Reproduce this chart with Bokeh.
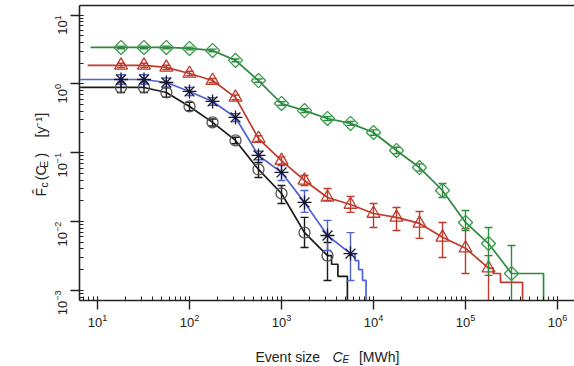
import math
from bokeh.plotting import figure
from bokeh.models import LogAxis, Label, FixedTicker
from bokeh.embed import file_html
from bokeh.resources import INLINE

# ---------------- data ----------------
# event sizes (MWh) at which the markers sit
sizes = [18, 32, 56, 100, 178, 316, 562, 1000, 1778, 3162, 5623,
         10000, 17783, 31623, 56234, 100000, 177828, 316228]

# black circles
black_y = [0.889, 0.889, 0.752, 0.471, 0.276, 0.151, 0.0572, 0.0256, 0.0069, 0.0032]
black_hi = [1.05, 1.05, 0.88, 0.54, 0.31, 0.168, 0.0722, 0.0334, 0.0115, 0.00497]
black_lo = [0.75, 0.75, 0.64, 0.41, 0.245, 0.135, 0.0438, 0.0183, 0.0042, 0.00139]
black_start = 6.5
black_tail_x = [3500, 3500, 4100, 4100, 5200, 5200]
black_tail_y = [0.0032, 0.0024, 0.0024, 0.0016, 0.0016, 0.0003]

# blue asterisks
blue_y = [1.16, 1.16, 1.05, 0.778, 0.557, 0.326, 0.0914, 0.0518, 0.019, 0.00628, 0.00343]
blue_hi = [1.36, 1.36, 1.22, 0.89, 0.63, 0.37, 0.105, 0.0654, 0.0283, 0.0104, 0.0069]
blue_lo = [0.99, 0.99, 0.9, 0.68, 0.49, 0.285, 0.079, 0.0396, 0.0136, 0.0038, 0.00139]
blue_start = 6.5
blue_tail_x = [6300, 6300, 6900, 6900, 7600, 7600, 8300, 8300]
blue_tail_y = [0.00343, 0.0027, 0.0027, 0.0020, 0.0020, 0.0014, 0.0014, 0.0003]

# red triangles
red_y = [1.86, 1.86, 1.74, 1.42, 1.12, 0.637, 0.161, 0.077, 0.0396, 0.0224, 0.0177,
         0.0131, 0.0115, 0.0094, 0.0059, 0.0041, 0.0021]
red_hi = [2.0, 2.0, 1.87, 1.53, 1.2, 0.69, 0.177, 0.087, 0.0468, 0.0303, 0.0232,
          0.0183, 0.016, 0.014, 0.0097, 0.0079, 0.0032]
red_lo = [1.73, 1.73, 1.62, 1.32, 1.04, 0.59, 0.146, 0.068, 0.0335, 0.0203, 0.0136,
          0.0082, 0.0074, 0.0057, 0.003, 0.00176, 0.0004]
red_start = 7.8
red_tail_x = [200000, 200000, 240000, 240000, 417000, 417000]
red_tail_y = [0.0021, 0.00176, 0.00176, 0.00131, 0.00131, 0.0003]

# green diamonds
green_y = [3.39, 3.39, 3.39, 3.28, 3.07, 2.20, 1.12, 0.52, 0.41, 0.315, 0.267, 0.197,
           0.108, 0.061, 0.0283, 0.0097, 0.0048, 0.00176]
green_hi = [3.55, 3.55, 3.55, 3.43, 3.21, 2.3, 1.18, 0.55, 0.435, 0.335, 0.285, 0.215,
            0.12, 0.069, 0.0358, 0.0145, 0.0082, 0.0045]
green_lo = [3.24, 3.24, 3.24, 3.13, 2.93, 2.1, 1.06, 0.49, 0.385, 0.295, 0.25, 0.18,
            0.097, 0.054, 0.0224, 0.0074, 0.00165, 0.0004]
green_start = 8.4
green_tail_x = [705000, 705000]
green_tail_y = [0.00176, 0.0003]

x_range = (6.37, 1.53e6)
y_range = (7.13e-4, 13.8)

# ---------------- figure ----------------
FONT = "Liberation Sans"
p = figure(width=574, height=366, x_axis_type="log", y_axis_type="log",
           x_range=x_range, y_range=y_range, output_backend="svg",
           toolbar_location=None, min_border_left=79, min_border_right=0,
           min_border_top=5, min_border_bottom=66)
p.outline_line_color = None
p.grid.visible = False
p.background_fill_color = "white"
p.border_fill_color = "white"

for ax in (p.xaxis[0], p.yaxis[0]):
    ax.axis_line_width = 1.6
    ax.axis_line_color = "#222222"
    ax.major_tick_line_color = "#222222"
    ax.minor_tick_line_color = "#222222"
    ax.major_tick_line_width = 1.4
    ax.minor_tick_line_width = 1.0
    ax.major_tick_out = 9
    ax.major_tick_in = 0
    ax.minor_tick_out = 0
    ax.minor_tick_in = 4
    ax.major_label_text_font = FONT
    ax.major_label_text_font_size = "13px"
    ax.major_label_text_color = "#222222"
    ax.major_label_standoff = 4
p.yaxis[0].major_label_orientation = math.pi / 2
p.yaxis[0].major_label_standoff = 10

top = LogAxis(ticker=FixedTicker(ticks=[], minor_ticks=[]),
              major_tick_out=0, major_tick_in=0, minor_tick_out=0, minor_tick_in=0,
              major_label_standoff=0,
              axis_line_width=1.6, axis_line_color="#222222")
p.add_layout(top, "above")

series = [
    ("#1a1a1a", "#555555", "circle", 11, black_start, black_y, black_hi, black_lo, black_tail_x, black_tail_y),
    ("#4f63d2", "#151530", "asterisk", 14, blue_start, blue_y, blue_hi, blue_lo, blue_tail_x, blue_tail_y),
    ("#bf3a2b", "#c0392b", "triangle", 13, red_start, red_y, red_hi, red_lo, red_tail_x, red_tail_y),
    ("#2b8a3e", "#3a9a4c", "square", 10, green_start, green_y, green_hi, green_lo, green_tail_x, green_tail_y),
]

for line_col, mark_col, marker, msize, start, ys, his, los, tx, ty in series:
    xs = sizes[:len(ys)]
    lx = [start] + xs + tx
    ly = [ys[0]] + ys + ty
    p.line(lx, ly, line_color=line_col, line_width=1.7)
    # error bars
    p.segment(x0=xs, y0=los, x1=xs, y1=his, line_color=line_col, line_width=1.4)
    p.scatter(xs, his, marker="dash", size=8, line_color=line_col, line_width=1.4)
    p.scatter(xs, los, marker="dash", size=8, line_color=line_col, line_width=1.4)
    kw = dict(marker=marker, size=msize, fill_color=None, line_color=mark_col, line_width=1.3)
    if marker == "square":
        kw["angle"] = math.pi / 4
    p.scatter(xs, ys, **kw)

# ---------------- axis titles (text pieces placed in the side panels) ----------------
NB = "\u00a0"


def lab(text, x, y, side, size="14px", style="normal", angle=0.0):
    p.add_layout(Label(x=x, y=y, x_units="canvas", y_units="canvas", text=text,
                       text_font=FONT, text_font_size=size, text_font_style=style,
                       text_color="#222222", angle=angle, text_align="left",
                       text_baseline="alphabetic"), side)


A = math.pi / 2
# y title: F^_c(C_E)  [y^-1]
lab("F\u0302" + NB * 2 + "(C" + NB * 2 + ")" + NB * 4 + "[y\u207b\u00b9]", 40, 196, "left", angle=A)
lab("c" + NB * 5 + "E", 43, 187, "left", size="10.5px", angle=A)
# x title: Event size  C_E  [MWh]
lab("Event size" + NB * 10 + "[MWh]", 255, 356, "below")
lab("C", 332, 356, "left", style="italic")
lab("E", 342, 359, "below", size="10px", style="italic")

open("out.html", "w").write(file_html(p, INLINE))
